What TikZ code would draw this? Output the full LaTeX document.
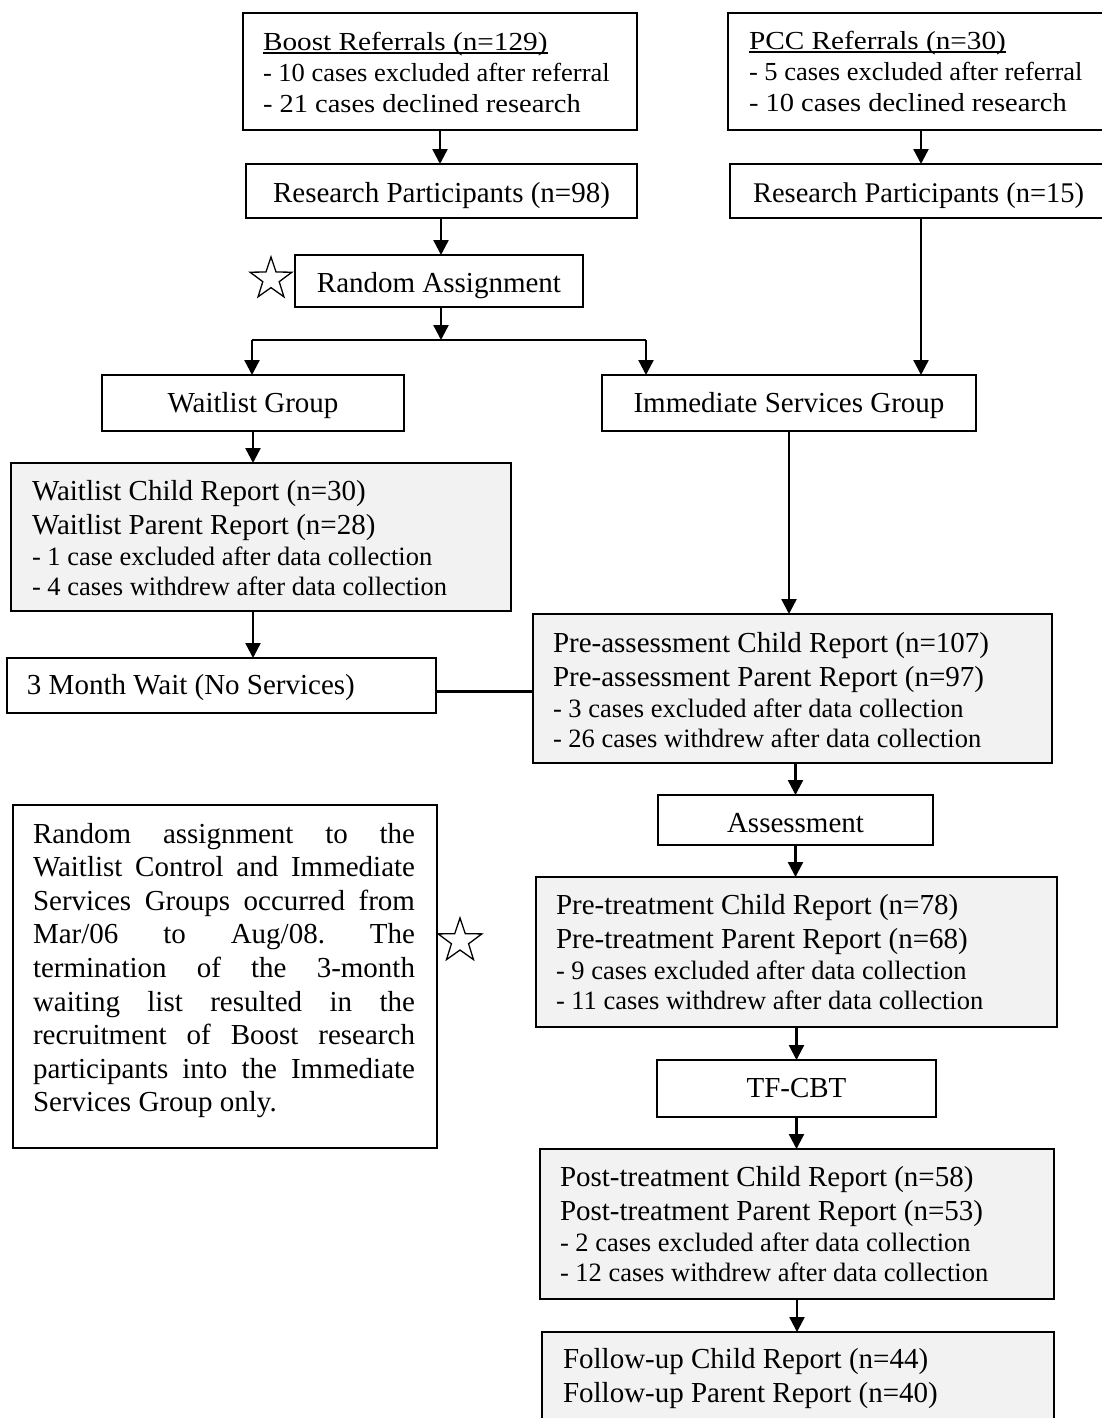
\documentclass[tikz,border=0pt]{standalone}
\usepackage{fontspec}
\setmainfont{Liberation Serif}
\newfontfamily\camA[FakeStretch=1.125]{Liberation Serif}
\newfontfamily\camB[FakeStretch=1.02]{Liberation Serif}
\newfontfamily\camC[FakeStretch=1.095]{Liberation Serif}
\usetikzlibrary{arrows.meta,shapes.geometric,calc}
\definecolor{boxgrey}{RGB}{242,242,242}
\newcommand\bigline[1]{\hbox{\fontsize{29}{33}\selectfont #1}}
\newcommand\dashline[1]{\hbox{\fontsize{26.5}{30}\selectfont #1}}
\newcommand\ulin[1]{\setbox0\hbox{#1}\copy0\llap{\vrule width\wd0 height -1pt depth 2.8pt}}
\newcommand\reportfour[4]{\vtop{\baselineskip=34pt\bigline{#1}\bigline{#2}\baselineskip=31pt\dashline{#3}\baselineskip=30pt\dashline{#4}}}
\newcommand\reporttwo[2]{\vtop{\baselineskip=34pt\bigline{#1}\bigline{#2}}}
\newcommand\referral[3]{\vtop{\baselineskip=31pt
  \hbox{\camA\fontsize{26}{31}\selectfont\ulin{#1}}%
  \hbox{\camB\fontsize{26}{31}\selectfont #2}%
  \hbox{\camC\fontsize{26}{31}\selectfont #3}}}
\begin{document}
\begin{tikzpicture}[x=1pt,y=-1pt,
  box/.style={draw, line width=2pt, inner sep=0pt, outer sep=0pt},
  greybox/.style={box, fill=boxgrey},
  txt/.style={inner sep=0pt, outer sep=0pt, anchor=base west, font=\fontsize{29}{33}\selectfont},
  txtc/.style={txt, anchor=base},
  arr/.style={line width=2.4pt, -{Triangle[length=15pt,width=15pt]}},
  plain/.style={line width=2.4pt},
  starnode/.style={star, star points=5, star point ratio=2.55, draw, line width=1.3pt, inner sep=0pt}]
\useasboundingbox (0,0) rectangle (1102,1418);

% boxes
\node[box, minimum width=394pt, minimum height=117pt] (boost) at (440,71.5) {};
\node[box, minimum width=386pt, minimum height=117pt] (pcc) at (921,71.5) {};
\node[box, minimum width=391pt, minimum height=54pt] (rp98) at (441.5,191) {};
\node[box, minimum width=382pt, minimum height=54pt] (rp15) at (921,191) {};
\node[box, minimum width=288pt, minimum height=52pt] (random) at (439,281) {};
\node[box, minimum width=302pt, minimum height=56pt] (wgroup) at (253,403) {};
\node[box, minimum width=374pt, minimum height=56pt] (igroup) at (789,403) {};
\node[greybox, minimum width=500pt, minimum height=148pt] (wchild) at (261,537) {};
\node[box, minimum width=429pt, minimum height=55pt] (wait3) at (221.5,685.5) {};
\node[greybox, minimum width=519pt, minimum height=149pt] (preassess) at (792.5,688.5) {};
\node[box, minimum width=275pt, minimum height=50pt] (assess) at (795.5,820) {};
\node[greybox, minimum width=521pt, minimum height=150pt] (pretreat) at (796.5,952) {};
\node[box, minimum width=279pt, minimum height=57pt] (tfcbt) at (796.5,1088.5) {};
\node[greybox, minimum width=514pt, minimum height=150pt] (post) at (797,1224) {};
\node[greybox, minimum width=512pt, minimum height=108pt] (follow) at (798,1386) {};
\node[box, minimum width=424pt, minimum height=343pt] (note) at (225,976.5) {};

% stars
\node[starnode, minimum size=44pt] (star1) at (271,279) {};
\node[starnode, minimum size=46pt] (star2) at (460,941) {};

% texts
\node[txt] (t-boost) at (263,51) {\referral{Boost Referrals (n=129)}{- 10 cases excluded after referral}{- 21 cases declined research}};
\node[txt] (t-pcc) at (749,50) {\referral{PCC Referrals (n=30)}{- 5 cases excluded after referral}{- 10 cases declined research}};
\node[txtc] (t-rp98) at (441.5,202) {Research Participants (n=98)};
\node[txt, font=\fontsize{28.5}{33}\selectfont] (t-rp15) at (753,202) {Research Participants (n=15)};
\node[txtc] (t-random) at (439,292) {Random Assignment};
\node[txtc] (t-wgroup) at (253,412) {Waitlist Group};
\node[txtc] (t-igroup) at (789,412) {Immediate Services Group};
\node[txt] (t-wchild) at (32,500) {\reportfour{Waitlist Child Report (n=30)}{Waitlist Parent Report (n=28)}{- 1 case excluded after data collection}{- 4 cases withdrew after data collection}};
\node[txt] (t-wait3) at (27,694) {3 Month Wait (No Services)};
\node[txt] (t-preassess) at (553,652) {\reportfour{Pre-assessment Child Report (n=107)}{Pre-assessment Parent Report (n=97)}{- 3 cases excluded after data collection}{- 26 cases withdrew after data collection}};
\node[txtc] (t-assess) at (795.5,832) {Assessment};
\node[txt] (t-pretreat) at (556,914) {\reportfour{Pre-treatment Child Report (n=78)}{Pre-treatment Parent Report (n=68)}{- 9 cases excluded after data collection}{- 11 cases withdrew after data collection}};
\node[txtc] (t-tfcbt) at (796.5,1097) {TF-CBT};
\node[txt] (t-post) at (560,1186) {\reportfour{Post-treatment Child Report (n=58)}{Post-treatment Parent Report (n=53)}{- 2 cases excluded after data collection}{- 12 cases withdrew after data collection}};
\node[txt] (t-follow) at (563,1368) {\reporttwo{Follow-up Child Report (n=44)}{Follow-up Parent Report (n=40)}};
\node[txt] (t-note) at (33,843) {\vtop{\fontsize{29}{33.6}\selectfont\baselineskip=33.6pt
  \hbox to 382pt{Random\hfil assignment\hfil to\hfil the}
  \hbox to 382pt{Waitlist\hfil Control\hfil and\hfil Immediate}
  \hbox to 382pt{Services\hfil Groups\hfil occurred\hfil from}
  \hbox to 382pt{Mar/06\hfil to\hfil Aug/08.\hfil The}
  \hbox to 382pt{termination\hfil of\hfil the\hfil 3-month}
  \hbox to 382pt{waiting\hfil list\hfil resulted\hfil in\hfil the}
  \hbox to 382pt{recruitment\hfil of\hfil Boost\hfil research}
  \hbox to 382pt{participants\hfil into\hfil the\hfil Immediate}
  \hbox{Services Group only.}}};

% connectors
\coordinate (split) at (441,340);
\coordinate (sL) at (252,340);
\coordinate (sR) at (646,340);
\draw[arr] (boost.south) -- (boost.south |- rp98.north);
\draw[arr] (pcc.south) -- (pcc.south |- rp15.north);
\draw[arr] (rp98.south -| split) -- (split |- random.north);
\draw[arr] (random.south -| split) -- (split);
\draw[plain] (sL) -- (sR);
\draw[arr] (sL) -- (sL |- wgroup.north);
\draw[arr] (sR) -- (sR |- igroup.north);
\draw[arr] (rp15.south) -- (rp15.south |- igroup.north);
\draw[arr] (wgroup.south) -- (wgroup.south |- wchild.north);
\draw[arr] (wgroup.south |- wchild.south) -- (wgroup.south |- wait3.north);
\draw[plain] ([yshift=-6pt]wait3.east) -- ([yshift=-6pt]wait3.east -| preassess.west);
\draw[arr] (igroup.south) -- (igroup.south |- preassess.north);
\draw[arr] (assess.north |- preassess.south) -- (assess.north);
\draw[arr] (assess.south) -- (assess.south |- pretreat.north);
\draw[arr] (tfcbt.north |- pretreat.south) -- (tfcbt.north);
\draw[arr] (tfcbt.south) -- (tfcbt.south |- post.north);
\draw[arr] (post.south) -- (post.south |- follow.north);
\end{tikzpicture}
\end{document}
